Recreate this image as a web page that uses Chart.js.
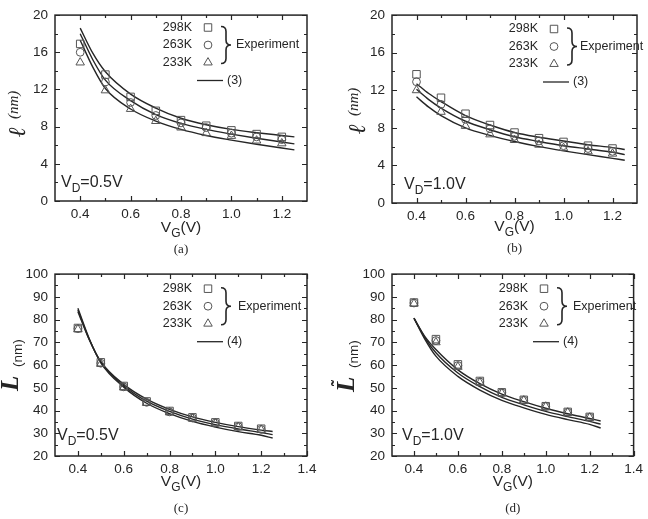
<!DOCTYPE html>
<html>
<head>
<meta charset="utf-8">
<script src="https://cdn.jsdelivr.net/npm/chart.js@4/dist/chart.umd.min.js"></script>
<style>
  body { margin: 0; background: #fff; }
  #wrap { position: relative; width: 648px; height: 519px; }
  canvas { position: absolute; }
</style>
</head>
<body>
<div id="wrap">
  <canvas id="cA" width="324" height="259" style="left:0;top:0"></canvas>
  <canvas id="cB" width="324" height="259" style="left:324px;top:0"></canvas>
  <canvas id="cC" width="324" height="260" style="left:0;top:259px"></canvas>
  <canvas id="cD" width="324" height="260" style="left:324px;top:259px"></canvas>
</div>
<script>
// V_G values of the measured points and of the model curves
const vgExp = [0.4, 0.5, 0.6, 0.7, 0.8, 0.9, 1.0, 1.1, 1.2];
const vgFit = [0.4, 0.45, 0.5, 0.6, 0.7, 0.8, 0.9, 1.0, 1.1, 1.2, 1.25];

// (a) l (nm), VD = 0.5V
const aExp298 = [16.9, 13.6, 11.2, 9.7, 8.7, 8.1, 7.6, 7.2, 6.9];
const aExp263 = [16.0, 12.8, 10.6, 9.2, 8.4, 7.9, 7.3, 6.9, 6.6];
const aExp233 = [14.9, 11.9, 9.9, 8.6, 7.9, 7.3, 7.0, 6.5, 6.2];
const aFit298 = [18.6, 15.9, 13.9, 11.5, 10.0, 8.9, 8.2, 7.7, 7.35, 7.05, 6.9];
const aFit263 = [18.0, 15.2, 13.0, 10.8, 9.3, 8.35, 7.7, 7.2, 6.75, 6.35, 6.15];
const aFit233 = [17.3, 14.4, 12.1, 9.9, 8.6, 7.7, 7.05, 6.55, 6.1, 5.7, 5.5];

// (b) l (nm), VD = 1.0V
const bExp298 = [13.7, 11.2, 9.5, 8.3, 7.5, 6.9, 6.5, 6.1, 5.8];
const bExp263 = [12.9, 10.5, 8.9, 7.9, 7.1, 6.6, 6.1, 5.8, 5.5];
const bExp233 = [12.0, 9.7, 8.2, 7.3, 6.7, 6.2, 5.85, 5.5, 5.25];
const bFit298 = [12.7, 11.65, 10.8, 9.3, 8.3, 7.5, 7.0, 6.6, 6.2, 5.9, 5.7];
const bFit263 = [12.1, 11.0, 10.1, 8.7, 7.8, 7.05, 6.55, 6.1, 5.75, 5.4, 5.15];
const bFit233 = [11.3, 10.2, 9.3, 8.0, 7.2, 6.55, 6.0, 5.55, 5.15, 4.75, 4.55];

// (c) L (nm), VD = 0.5V
const cExp298 = [76.3, 61.2, 50.8, 44.0, 39.8, 37.0, 34.8, 33.2, 32.0];
const cExp263 = [76.0, 60.8, 50.4, 43.6, 39.4, 36.7, 34.5, 32.9, 31.7];
const cExp233 = [75.7, 60.5, 50.1, 43.3, 39.2, 36.4, 34.3, 32.7, 31.5];
const cFit298 = [83.5, 71.0, 61.5, 51.5, 45.0, 40.5, 37.2, 34.8, 32.9, 31.4, 30.8];
const cFit263 = [84.2, 71.2, 61.3, 50.9, 44.1, 39.6, 36.2, 33.8, 31.9, 30.3, 29.4];
const cFit233 = [85.0, 71.5, 61.0, 50.3, 43.2, 38.6, 35.2, 32.7, 30.7, 29.1, 27.9];

// (d) L~ (nm), VD = 1.0V
const dExp298 = [87.5, 71.4, 60.3, 53.0, 48.0, 44.7, 41.9, 39.4, 37.2];
const dExp263 = [87.3, 70.8, 59.8, 52.6, 47.8, 44.5, 41.8, 39.2, 37.0];
const dExp233 = [87.0, 70.0, 59.2, 52.3, 47.6, 44.4, 41.7, 39.1, 36.9];
const dFit298 = [80.6, 72.5, 66.8, 57.9, 51.8, 47.2, 43.9, 41.0, 38.6, 36.5, 35.4];
const dFit263 = [80.6, 72.0, 65.4, 56.5, 50.5, 45.8, 42.5, 39.6, 37.3, 35.2, 34.0];
const dFit233 = [80.6, 71.3, 63.9, 55.0, 49.0, 44.5, 41.2, 38.3, 36.0, 33.9, 32.3];

// tick values
const xMajorAB = [0.4, 0.6, 0.8, 1.0, 1.2];
const xMinorAB = [0.5, 0.7, 0.9, 1.1];
const xMajorCD = [0.4, 0.6, 0.8, 1.0, 1.2, 1.4];
const xMinorCD = [0.5, 0.7, 0.9, 1.1, 1.3];
const yMajorAB = [0, 4, 8, 12, 16, 20];
const yMinorAB = [2, 6, 10, 14, 18];
const yMajorCD = [20, 30, 40, 50, 60, 70, 80, 90, 100];
const yMinorCD = [25, 35, 45, 55, 65, 75, 85, 95];

const tempLabels = ['298K', '263K', '233K'];
const markerStyles = ['rect', 'circle', 'triangle'];

const SANS = '"Liberation Sans", Arial, sans-serif';
const SERIF = '"Liberation Serif", "Times New Roman", serif';
const INK = '#262626';
const MARK = '#555';

const pts = (xs, ys) => xs.map((x, i) => ({ x: x, y: ys[i] }));
const markerRadius = { rect: 5.3, circle: 3.9, triangle: 4.9 };

function drawSub(ctx, x, y, parts, size, align) {
  // parts: [[text, isSub], ...]
  const widths = parts.map(p => {
    ctx.font = (p[1] ? Math.round(size * 0.78) : size) + 'px ' + SANS;
    return ctx.measureText(p[0]).width;
  });
  const total = widths.reduce((s, w) => s + w, 0);
  let cx = align === 'center' ? x - total / 2 : x;
  ctx.textAlign = 'left';
  parts.forEach((p, i) => {
    ctx.font = (p[1] ? Math.round(size * 0.78) : size) + 'px ' + SANS;
    ctx.fillText(p[0], cx, p[1] ? y + size * 0.3 : y);
    cx += widths[i];
  });
}

const decor = {
  id: 'decor',
  afterDraw(chart, args, o) {
    const ctx = chart.ctx, a = chart.chartArea;
    const xs = chart.scales.x, ys = chart.scales.y;
    ctx.save();
    // frame
    ctx.strokeStyle = INK;
    ctx.lineWidth = 1.5;
    ctx.strokeRect(a.left, a.top, a.right - a.left, a.bottom - a.top);
    // inward ticks on all four sides
    ctx.lineWidth = 1.2;
    ctx.beginPath();
    const xt = o.xMajor.map(v => [v, 5]).concat(o.xMinor.map(v => [v, 3]));
    xt.forEach(([v, len]) => {
      const px = Math.round(xs.getPixelForValue(v)) + 0.5;
      ctx.moveTo(px, a.bottom); ctx.lineTo(px, a.bottom - len);
      ctx.moveTo(px, a.top); ctx.lineTo(px, a.top + len);
    });
    const yt = o.yMajor.map(v => [v, 5]).concat(o.yMinor.map(v => [v, 3]));
    yt.forEach(([v, len]) => {
      const py = Math.round(ys.getPixelForValue(v)) + 0.5;
      ctx.moveTo(a.left, py); ctx.lineTo(a.left + len, py);
      ctx.moveTo(a.right, py); ctx.lineTo(a.right - len, py);
    });
    ctx.stroke();

    // legend
    const lx = o.lx, ly = o.ly, step = 17.5;
    ctx.fillStyle = INK;
    ctx.font = '12.5px ' + SANS;
    ctx.textBaseline = 'middle';
    ctx.textAlign = 'right';
    tempLabels.forEach((t, i) => {
      ctx.fillStyle = INK;
      ctx.fillText(t, lx, ly + i * step);
      ctx.strokeStyle = MARK;
      ctx.fillStyle = 'rgba(0,0,0,0)';
      ctx.lineWidth = 1;
      Chart.helpers.drawPoint(ctx, { pointStyle: markerStyles[i], radius: markerRadius[markerStyles[i]], rotation: 0, borderWidth: 1 }, lx + 16, ly + i * step);
    });
    // brace
    const top = ly - 1, bot = ly + 2 * step + 1, mid = ly + step;
    const b0 = lx + 29, bm = lx + 34, b1 = lx + 39;
    ctx.strokeStyle = INK;
    ctx.lineWidth = 1.6;
    ctx.beginPath();
    ctx.moveTo(b0, top);
    ctx.quadraticCurveTo(bm, top, bm, top + 5);
    ctx.lineTo(bm, mid - 5);
    ctx.quadraticCurveTo(bm, mid, b1, mid);
    ctx.quadraticCurveTo(bm, mid, bm, mid + 5);
    ctx.lineTo(bm, bot - 5);
    ctx.quadraticCurveTo(bm, bot, b0, bot);
    ctx.stroke();
    ctx.fillStyle = INK;
    ctx.textAlign = 'left';
    ctx.fillText('Experiment', lx + o.expGap, mid);
    // model line sample
    const lyLine = ly + 53;
    ctx.lineWidth = 1.3;
    ctx.beginPath();
    ctx.moveTo(lx + 5, lyLine); ctx.lineTo(lx + 31, lyLine);
    ctx.stroke();
    ctx.fillText(o.eq, lx + 35, lyLine);

    // V_D annotation
    ctx.textBaseline = 'alphabetic';
    drawSub(ctx, a.left + o.vdX, a.bottom - o.vdY, [['V', false], ['D', true], ['=' + o.vd, false]], 16, 'left');
    // x title
    const cx = (a.left + a.right) / 2;
    drawSub(ctx, cx, a.bottom + o.xtY, [['V', false], ['G', true], ['(V)', false]], 15.5, 'center');
    // caption
    ctx.font = '13px ' + SERIF;
    ctx.textAlign = 'center';
    ctx.fillText(o.caption, cx, a.bottom + o.capY);

    // y title, rotated
    ctx.translate(o.ytX, o.ytY);
    ctx.rotate(-Math.PI / 2);
    ctx.textAlign = 'left';
    if (o.ytKind === 'ell') {
      ctx.font = 'italic bold 24px ' + SERIF;
      ctx.fillText('\u2113', 0, 0);
      ctx.font = 'italic 15px ' + SERIF;
      ctx.fillText('(nm)', 18, -7);
    } else {
      ctx.font = 'italic bold 25px ' + SERIF;
      ctx.fillText('L', 0, 0);
      if (o.ytKind === 'Lt') {
        ctx.font = 'bold 18px ' + SERIF;
        ctx.fillText('\u02DC', 6, -10);
      }
      ctx.font = '13.5px ' + SANS;
      ctx.fillText('(nm)', 24, 4);
    }
    ctx.restore();
  }
};

function makePanel(id, p) {
  const canvas = document.getElementById(id);
  const W = canvas.width, H = canvas.height;
  const exps = [p.e298, p.e263, p.e233];
  const fits = [p.f298, p.f263, p.f233];
  const datasets = [];
  exps.forEach((ys, i) => {
    datasets.push({
      data: pts(vgExp, ys),
      showLine: false,
      pointStyle: markerStyles[i],
      pointRadius: markerRadius[markerStyles[i]],
      pointBorderWidth: 1,
      pointBorderColor: MARK,
      pointBackgroundColor: 'rgba(0,0,0,0)'
    });
  });
  fits.forEach(ys => {
    datasets.push({
      data: pts(vgFit, ys),
      showLine: true,
      pointRadius: 0,
      borderColor: INK,
      borderWidth: 1.4,
      cubicInterpolationMode: 'monotone',
      fill: false
    });
  });
  new Chart(canvas, {
    type: 'scatter',
    data: { datasets: datasets },
    options: {
      responsive: false,
      animation: false,
      events: [],
      layout: { padding: { left: 0, top: p.area.t, right: W - p.area.r, bottom: 0 } },
      plugins: { legend: { display: false }, tooltip: { enabled: false }, decor: p.decor },
      scales: {
        x: {
          type: 'linear', min: p.xMin, max: p.xMax,
          grid: { display: false, drawTicks: false },
          border: { display: false },
          afterBuildTicks: s => { s.ticks = p.decor.xMajor.map(v => ({ value: v })); },
          afterFit: s => { s.height = H - p.area.b; },
          ticks: {
            autoSkip: false, maxRotation: 0, padding: 5, color: INK,
            font: { family: SANS, size: 13.5 },
            callback: v => v.toFixed(1)
          }
        },
        y: {
          type: 'linear', min: p.yMin, max: p.yMax,
          grid: { display: false, drawTicks: false },
          border: { display: false },
          afterBuildTicks: s => { s.ticks = p.decor.yMajor.map(v => ({ value: v })); },
          afterFit: s => { s.width = p.area.l; },
          ticks: {
            autoSkip: false, padding: 7, color: INK,
            font: { family: SANS, size: 13.5 },
            callback: v => String(v)
          }
        }
      }
    },
    plugins: [decor]
  });
}

makePanel('cA', {
  e298: aExp298, e263: aExp263, e233: aExp233, f298: aFit298, f263: aFit263, f233: aFit233,
  xMin: 0.3, xMax: 1.3, yMin: 0, yMax: 20,
  area: { l: 55, t: 14, r: 307, b: 201 },
  decor: { xMajor: xMajorAB, xMinor: xMinorAB, yMajor: yMajorAB, yMinor: yMinorAB,
    lx: 192, ly: 27.5, expGap: 44, eq: '(3)', vd: '0.5V', vdX: 6, vdY: 14,
    xtY: 31, capY: 52, caption: '(a)', ytKind: 'ell', ytX: 25, ytY: 137 }
});
makePanel('cB', {
  e298: bExp298, e263: bExp263, e233: bExp233, f298: bFit298, f263: bFit263, f233: bFit233,
  xMin: 0.3, xMax: 1.3, yMin: 0, yMax: 20,
  area: { l: 68, t: 15, r: 313, b: 203 },
  decor: { xMajor: xMajorAB, xMinor: xMinorAB, yMajor: yMajorAB, yMinor: yMinorAB,
    lx: 214, ly: 29, expGap: 42, eq: '(3)', vd: '1.0V', vdX: 12, vdY: 14,
    xtY: 28, capY: 49, caption: '(b)', ytKind: 'ell', ytX: 41, ytY: 134 }
});
makePanel('cC', {
  e298: cExp298, e263: cExp263, e233: cExp233, f298: cFit298, f263: cFit263, f233: cFit233,
  xMin: 0.3, xMax: 1.4, yMin: 20, yMax: 100,
  area: { l: 55, t: 11, r: 307, b: 197 },
  decor: { xMajor: xMajorCD, xMinor: xMinorCD, yMajor: yMajorCD, yMinor: yMinorCD,
    lx: 192, ly: 29.7, expGap: 46, eq: '(4)', vd: '0.5V', vdX: 2, vdY: 16,
    xtY: 30, capY: 56, caption: '(c)', ytKind: 'L', ytX: 18, ytY: 132 }
});
makePanel('cD', {
  e298: dExp298, e263: dExp263, e233: dExp233, f298: dFit298, f263: dFit263, f233: dFit233,
  xMin: 0.3, xMax: 1.4, yMin: 20, yMax: 100,
  area: { l: 68, t: 11, r: 315, b: 197 },
  decor: { xMajor: xMajorCD, xMinor: xMinorCD, yMajor: yMajorCD, yMinor: yMinorCD,
    lx: 204, ly: 29.7, expGap: 45, eq: '(4)', vd: '1.0V', vdX: 10, vdY: 16,
    xtY: 30, capY: 56, caption: '(d)', ytKind: 'Lt', ytX: 30, ytY: 133 }
});
</script>
</body>
</html>
